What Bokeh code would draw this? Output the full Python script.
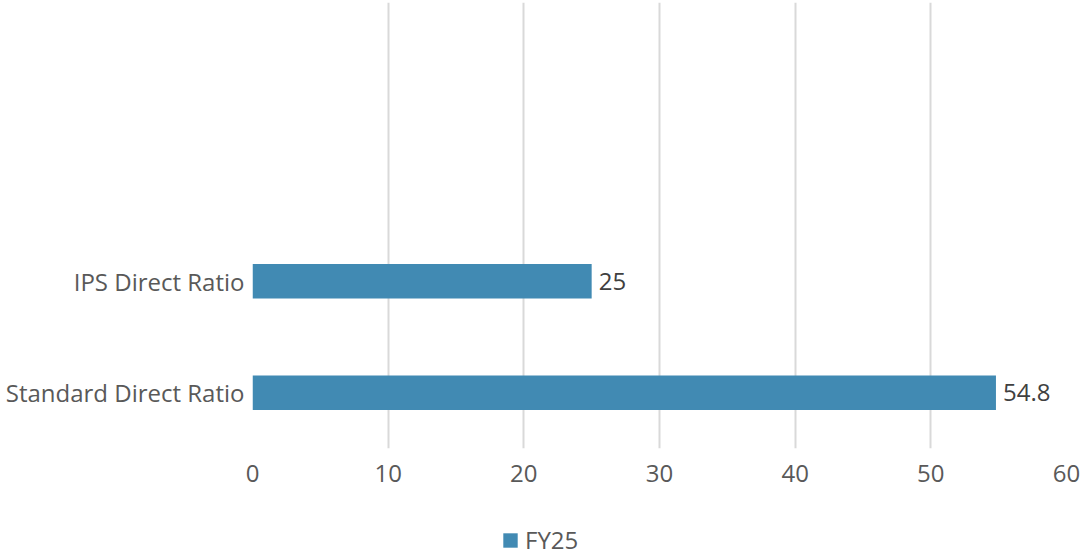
from bokeh.plotting import figure
from bokeh.layouts import column
from bokeh.models import (ColumnDataSource, FactorRange, Range1d, SingleIntervalTicker,
                          Legend, LegendItem)
from bokeh.core.properties import value
from bokeh.embed import file_html
from bokeh.resources import INLINE

# Data
slots = ["Standard Direct Ratio", "IPS Direct Ratio", " ", "  "]  # bottom -> top (two empty slots above)
categories = ["Standard Direct Ratio", "IPS Direct Ratio"]
values = [54.8, 25]
value_labels = ["54.8", "25"]
series_name = "FY25"

FONT = "Open Sans"
FS = "24px"
BAR = "#418AB3"
TXT = "#595959"

source = ColumnDataSource(dict(cat=categories, val=values, lab=value_labels))

p = figure(width=1082, height=500, output_backend="svg", toolbar_location=None,
           y_range=FactorRange(factors=slots, range_padding=0),
           x_range=Range1d(0, 60))
p.min_border_left = 252
p.min_border_right = 16
p.min_border_top = 2
p.min_border_bottom = 52
p.outline_line_color = None
p.background_fill_color = "white"
p.border_fill_color = "white"

r = p.hbar(y="cat", right="val", left=0, height=0.31, source=source,
           fill_color=BAR, line_color=None)

p.text(x="val", y="cat", text="lab", source=source, x_offset=7,
       text_baseline="middle", text_align="left", text_color="#404040",
       text_font_size=FS, text_font=value(FONT))

p.xaxis.ticker = SingleIntervalTicker(interval=10)
p.xaxis.axis_line_color = None
p.xaxis.major_tick_line_color = None
p.xaxis.minor_tick_line_color = None
p.xaxis.major_tick_out = 0
p.xaxis.major_label_standoff = 12
p.xaxis.major_label_text_font = FONT
p.xaxis.major_label_text_font_size = FS
p.xaxis.major_label_text_color = TXT

p.yaxis.axis_line_color = None
p.yaxis.major_tick_line_color = None
p.yaxis.major_tick_out = 0
p.yaxis.major_label_standoff = 8
p.yaxis.major_label_text_font = FONT
p.yaxis.major_label_text_font_size = FS
p.yaxis.major_label_text_color = TXT

p.xgrid.grid_line_color = "#D9D9D9"
p.xgrid.grid_line_width = 2
p.ygrid.grid_line_color = None

# Legend strip below the chart (its frame is aligned with the chart frame)
lg = figure(width=1082, height=56, output_backend="svg", toolbar_location=None,
            x_range=Range1d(0, 1), y_range=Range1d(0, 1))
lg.min_border = 0
lg.axis.visible = False
lg.grid.visible = False
lg.outline_line_color = None
lg.border_fill_color = "white"
lg.background_fill_color = "white"
# same series as the bars; categorical y on a numeric range -> nothing is drawn here
key = lg.hbar(y="cat", right="val", left=0, height=0.31, source=source,
              fill_color=BAR, line_color=None)

legend = Legend(items=[LegendItem(label=series_name, renderers=[key])],
                location=(249, 0), orientation="horizontal",
                glyph_width=18, glyph_height=18, padding=0, margin=0,
                label_text_font=FONT, label_text_font_size=FS,
                label_text_color=TXT, border_line_color=None,
                background_fill_alpha=0, label_standoff=6)
lg.add_layout(legend, "center")

layout = column(p, lg, spacing=0)
open("out.html", "w").write(file_html(layout, INLINE))
